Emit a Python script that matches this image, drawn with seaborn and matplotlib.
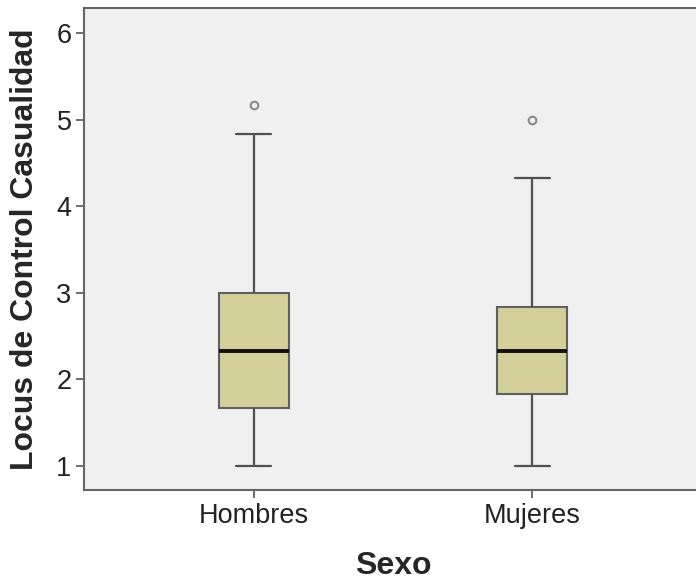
import matplotlib
matplotlib.use('Agg')
import matplotlib.pyplot as plt
import seaborn as sns
import pandas as pd

# ==========================================
# DATOS
# ==========================================

grupos = ['Hombres', 'Mujeres']

# muestras que reproducen cuartiles, bigotes y atipicos de cada caja
hombres = [1.00, 1.33, 1.67, 2.00, 2.33, 2.67, 3.00, 4.83, 5.17]
mujeres = [1.00, 1.50, 1.83, 2.10, 2.33, 2.60, 2.83, 4.33, 5.00]

y_ticks = [1, 2, 3, 4, 5, 6]

df = pd.DataFrame({
    'Sexo': ['Hombres'] * len(hombres) + ['Mujeres'] * len(mujeres),
    'valor': hombres + mujeres,
})

# ==========================================
# ESTILO
# ==========================================

sns.set_style('white')
plt.rcParams['font.family'] = ['Liberation Sans', 'DejaVu Sans']

fig = plt.figure(figsize=(6.96, 5.82), dpi=100)
ax = fig.add_axes([0.1207, 0.158, 0.888, 0.828])
ax.set_facecolor('#F0F0F0')

sns.boxplot(
    data=df, x='Sexo', y='valor', order=grupos,
    width=0.25, whis=1.6, fliersize=5.5,
    color='#D4D09A', saturation=1,
    linecolor='#606060', linewidth=1.5,
    medianprops={'color': '#111111', 'linewidth': 2.8},
    whiskerprops={'color': '#505050', 'linewidth': 1.6},
    capprops={'color': '#505050', 'linewidth': 1.6},
    flierprops={'marker': 'o', 'markerfacecolor': 'none',
                'markeredgecolor': '#8a8a8a', 'markeredgewidth': 1.5},
    ax=ax,
)

ax.set_xlim(-0.61, 1.61)
ax.set_ylim(0.72, 6.29)
ax.set_yticks(y_ticks)

for lado in ['left', 'bottom', 'top']:
    ax.spines[lado].set_color('#666666')
    ax.spines[lado].set_linewidth(1.5)
ax.spines['right'].set_visible(False)

ax.tick_params(axis='both', direction='out', length=6, width=1.2,
               color='#555555', labelsize=19.5, labelcolor='#222222', pad=3,
               left=True, bottom=True)

ax.set_xlabel('Sexo', fontsize=23, fontweight='bold', labelpad=16)
ax.set_ylabel('Locus de Control Casualidad', fontsize=23, fontweight='bold',
              labelpad=12)

plt.savefig('out.png', dpi=100)
